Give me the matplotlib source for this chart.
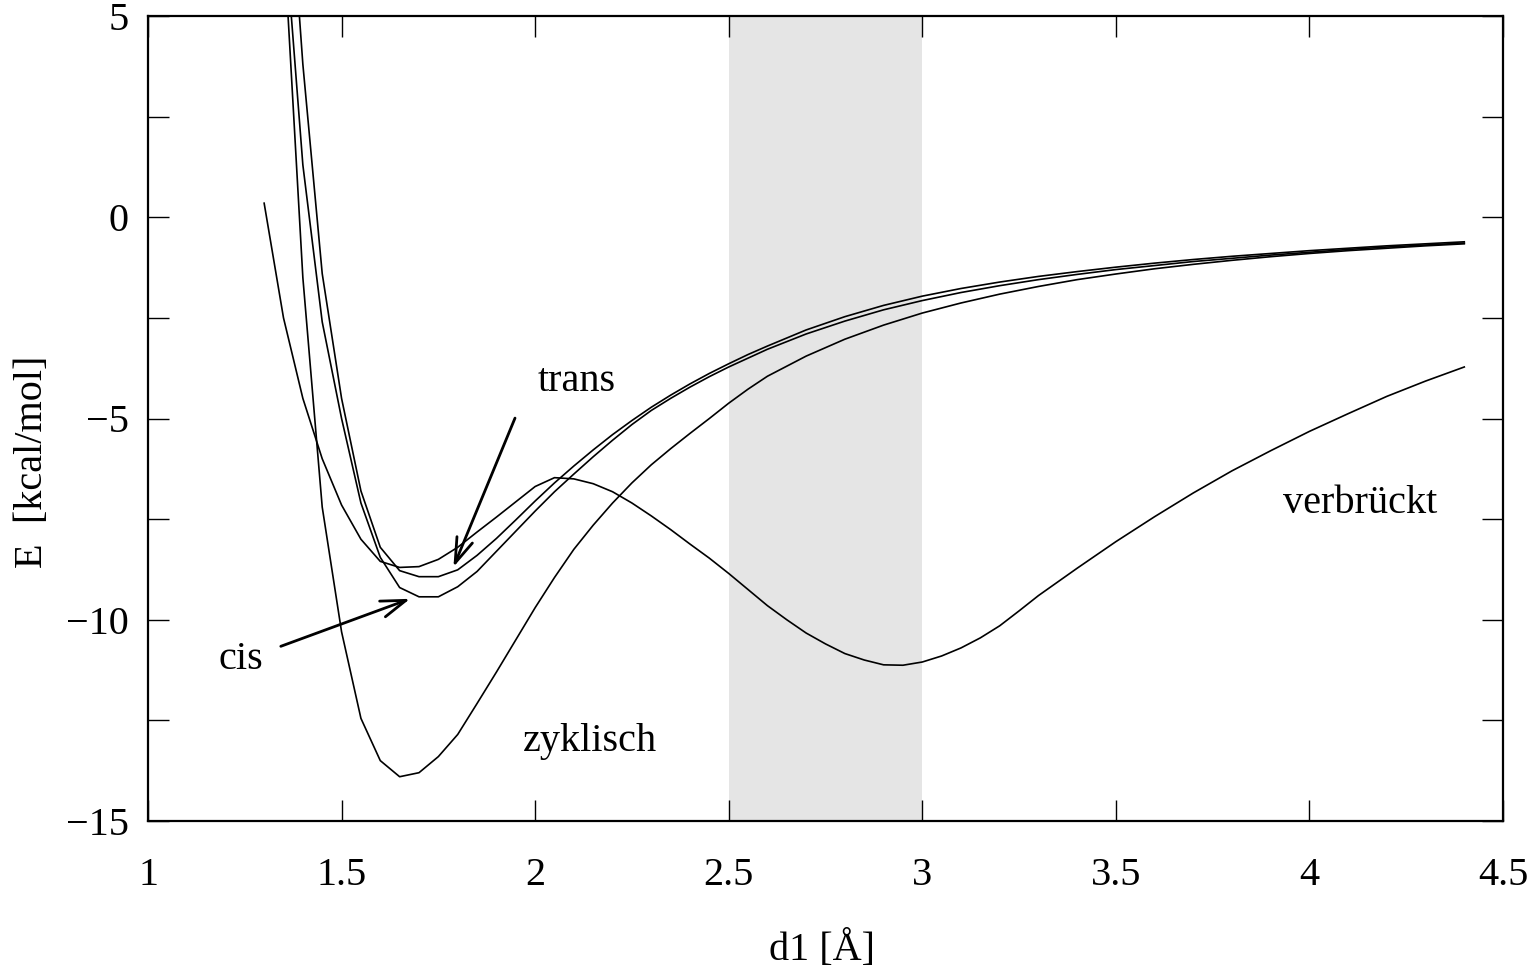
import matplotlib
matplotlib.use("Agg")
import matplotlib.pyplot as plt
from matplotlib.ticker import FixedLocator

plt.rcParams['font.family'] = ['Liberation Serif', 'DejaVu Serif']
plt.rcParams['axes.unicode_minus'] = True

# ---------------- data ----------------
zyk_x = [1.35, 1.40, 1.45, 1.50, 1.55, 1.60, 1.65, 1.70, 1.75, 1.80, 1.85, 1.90, 1.95,
         2.00, 2.05, 2.10, 2.15, 2.20, 2.25, 2.30, 2.35, 2.40, 2.45, 2.50, 2.55, 2.60,
         2.7, 2.8, 2.9, 3.0, 3.1, 3.2, 3.3, 3.4, 3.5, 3.6, 3.7, 3.8, 3.9, 4.0, 4.1, 4.2, 4.3, 4.4]
zyk_y = [7.0, -1.5, -7.2, -10.3, -12.45, -13.5, -13.9, -13.8, -13.4, -12.85, -12.08, -11.3, -10.5,
         -9.7, -8.95, -8.25, -7.65, -7.1, -6.6, -6.15, -5.75, -5.37, -5.0, -4.62, -4.27, -3.95,
         -3.45, -3.03, -2.68, -2.38, -2.13, -1.91, -1.72, -1.55, -1.41, -1.28, -1.17, -1.07, -0.98,
         -0.90, -0.83, -0.77, -0.71, -0.66]

cis_x = zyk_x
cis_y = [7.5, 1.3, -2.6, -5.0, -7.1, -8.45, -9.2, -9.43, -9.43, -9.18, -8.8, -8.3, -7.8,
         -7.3, -6.82, -6.38, -5.95, -5.54, -5.15, -4.8, -4.5, -4.22, -3.96, -3.72, -3.5, -3.28,
         -2.9, -2.58, -2.3, -2.07, -1.87, -1.7, -1.55, -1.42, -1.3, -1.2, -1.1, -1.02, -0.94,
         -0.87, -0.8, -0.74, -0.69, -0.64]

trans_x = zyk_x
trans_y = [10.5, 3.8, -1.4, -4.5, -6.8, -8.2, -8.78, -8.93, -8.93, -8.76, -8.4, -7.98, -7.52,
           -7.05, -6.6, -6.18, -5.78, -5.4, -5.05, -4.72, -4.42, -4.14, -3.88, -3.64, -3.41, -3.2,
           -2.8, -2.47, -2.19, -1.96, -1.77, -1.61, -1.47, -1.35, -1.24, -1.14, -1.05, -0.97, -0.9,
           -0.83, -0.77, -0.71, -0.66, -0.61]

verb_x = [1.30, 1.35, 1.40, 1.45, 1.50, 1.55, 1.60, 1.65, 1.70, 1.75, 1.80, 1.85, 1.90, 1.95,
          2.00, 2.05, 2.10, 2.15, 2.20, 2.25, 2.30, 2.35, 2.40, 2.45, 2.50, 2.55, 2.60, 2.65,
          2.70, 2.75, 2.80, 2.85, 2.90, 2.95, 3.00, 3.05, 3.10, 3.15, 3.20, 3.25, 3.30,
          3.4, 3.5, 3.6, 3.7, 3.8, 3.9, 4.0, 4.1, 4.2, 4.3, 4.4]
verb_y = [0.35, -2.5, -4.5, -6.0, -7.15, -8.0, -8.55, -8.7, -8.68, -8.5, -8.2, -7.82, -7.45, -7.07,
          -6.69, -6.47, -6.5, -6.62, -6.82, -7.1, -7.42, -7.76, -8.12, -8.47, -8.85, -9.25, -9.65, -10.0,
          -10.33, -10.6, -10.84, -11.0, -11.12, -11.13, -11.05, -10.9, -10.7, -10.45, -10.15, -9.78, -9.4,
          -8.72, -8.06, -7.44, -6.85, -6.3, -5.8, -5.32, -4.88, -4.45, -4.07, -3.72]

shade_range = (2.5, 3.0)
x_ticks = [1, 1.5, 2, 2.5, 3, 3.5, 4, 4.5]
x_ticklabels = ["1", "1.5", "2", "2.5", "3", "3.5", "4", "4.5"]
y_major = [-15, -10, -5, 0, 5]
y_minor = [-12.5, -7.5, -2.5, 2.5]

# ---------------- figure ----------------
fig = plt.figure(figsize=(15.29, 9.73), dpi=100)
ax = fig.add_axes([148/1529, 1 - 821/973, (1503-148)/1529, (821-16)/973])

ax.axvspan(*shade_range, color='#e5e5e5', zorder=0, lw=0)

lw = 1.2
for xs, ys in [(zyk_x, zyk_y), (cis_x, cis_y), (trans_x, trans_y), (verb_x, verb_y)]:
    ax.plot(xs, ys, color='black', lw=lw, zorder=2)

ax.set_xlim(1, 4.5)
ax.set_ylim(-15, 5)

ax.xaxis.set_major_locator(FixedLocator(x_ticks))
ax.set_xticklabels(x_ticklabels)
ax.yaxis.set_major_locator(FixedLocator(y_major))
ax.yaxis.set_minor_locator(FixedLocator(y_minor))

ax.tick_params(which='both', direction='in', top=True, right=True, length=15, width=1.0,
               labelsize=29)
ax.tick_params(axis='x', pad=26)
ax.tick_params(axis='y', pad=14)
for s in ax.spines.values():
    s.set_linewidth(1.6)

fs = 29
# labels
ax.text(2.108, -4.07, "trans", fontsize=fs, ha='center', va='center')
ax.text(1.24, -10.99, "cis", fontsize=fs, ha='center', va='center')
ax.text(2.142, -13.03, "zyklisch", fontsize=fs, ha='center', va='center')
ax.text(4.131, -7.1, "verbrückt", fontsize=fs, ha='center', va='center')

arrow_kw = dict(arrowstyle='->,head_length=0.9,head_width=0.3', lw=2.0, color='black',
                shrinkA=0, shrinkB=0, mutation_scale=20)
ax.annotate("", xy=(1.789, -8.69), xytext=(1.948, -4.99), arrowprops=arrow_kw, zorder=3)
ax.annotate("", xy=(1.677, -9.48), xytext=(1.343, -10.66), arrowprops=arrow_kw, zorder=3)

fig.text(33/1529, 1 - 462/973, "E  [kcal/mol]", rotation=90, fontsize=fs,
         ha='center', va='center')
fig.text(822/1529, 1 - 950/973, "d1 [Å]", fontsize=fs, ha='center', va='center')

fig.savefig("out.png", dpi=100)
